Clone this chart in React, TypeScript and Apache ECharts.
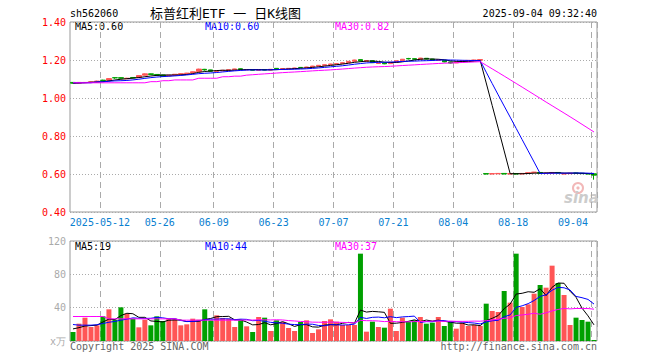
import React, { useEffect, useRef } from 'react';
import * as echarts from 'echarts';

const dates = [
  '2025-04-30',
  '2025-05-06', '2025-05-07', '2025-05-08', '2025-05-09',
  '2025-05-12', '2025-05-13', '2025-05-14', '2025-05-15', '2025-05-16',
  '2025-05-19', '2025-05-20', '2025-05-21', '2025-05-22', '2025-05-23',
  '2025-05-26', '2025-05-27', '2025-05-28', '2025-05-29', '2025-05-30',
  '2025-06-03', '2025-06-04', '2025-06-05', '2025-06-06',
  '2025-06-09', '2025-06-10', '2025-06-11', '2025-06-12', '2025-06-13',
  '2025-06-16', '2025-06-17', '2025-06-18', '2025-06-19', '2025-06-20',
  '2025-06-23', '2025-06-24', '2025-06-25', '2025-06-26', '2025-06-27',
  '2025-06-30', '2025-07-01', '2025-07-02', '2025-07-03', '2025-07-04',
  '2025-07-07', '2025-07-08', '2025-07-09', '2025-07-10', '2025-07-11',
  '2025-07-14', '2025-07-15', '2025-07-16', '2025-07-17', '2025-07-18',
  '2025-07-21', '2025-07-22', '2025-07-23', '2025-07-24', '2025-07-25',
  '2025-07-28', '2025-07-29', '2025-07-30', '2025-07-31', '2025-08-01',
  '2025-08-04', '2025-08-05', '2025-08-06', '2025-08-07', '2025-08-08',
  '2025-08-11', '2025-08-12', '2025-08-13', '2025-08-14', '2025-08-15',
  '2025-08-18', '2025-08-19', '2025-08-20', '2025-08-21', '2025-08-22',
  '2025-08-25', '2025-08-26', '2025-08-27', '2025-08-28', '2025-08-29',
  '2025-09-01', '2025-09-02', '2025-09-03', '2025-09-04',
];

const opens = [
  1.082, 1.078, 1.080, 1.082, 1.085, 1.094, 1.093, 1.107, 1.107, 1.101,
  1.108, 1.108, 1.120, 1.127, 1.124, 1.121, 1.116, 1.120, 1.125, 1.128,
  1.132, 1.139, 1.151, 1.148, 1.140, 1.143, 1.146, 1.149, 1.154, 1.148,
  1.150, 1.146, 1.150, 1.147, 1.156, 1.152, 1.154, 1.155, 1.161, 1.160,
  1.163, 1.168, 1.172, 1.175, 1.178, 1.181, 1.186, 1.193, 1.202, 1.193,
  1.196, 1.182, 1.184, 1.181, 1.189, 1.197, 1.208, 1.207, 1.204, 1.209,
  1.205, 1.198, 1.199, 1.190, 1.185, 1.190, 1.196, 1.198, 1.199,
  0.602, 0.600, 0.601, 0.603, 0.600, 0.602, 0.600, 0.603, 0.607, 0.608,
  0.603, 0.604, 0.608, 0.600, 0.602, 0.605, 0.604, 0.602, 0.601,
];
const closes = [
  1.078, 1.082, 1.082, 1.085, 1.089, 1.092, 1.102, 1.106, 1.104, 1.104,
  1.106, 1.118, 1.127, 1.124, 1.120, 1.115, 1.120, 1.125, 1.128, 1.131,
  1.138, 1.152, 1.148, 1.141, 1.143, 1.146, 1.149, 1.153, 1.150, 1.150,
  1.146, 1.149, 1.147, 1.151, 1.153, 1.155, 1.156, 1.158, 1.160, 1.163,
  1.168, 1.172, 1.175, 1.179, 1.181, 1.186, 1.193, 1.200, 1.195, 1.197,
  1.186, 1.184, 1.180, 1.188, 1.196, 1.204, 1.206, 1.204, 1.210, 1.205,
  1.199, 1.201, 1.190, 1.184, 1.190, 1.196, 1.198, 1.200, 1.202,
  0.600, 0.602, 0.603, 0.600, 0.602, 0.600, 0.603, 0.607, 0.610, 0.604,
  0.605, 0.608, 0.605, 0.602, 0.604, 0.604, 0.602, 0.600, 0.594,
];
const lows = [
  1.076, 1.077, 1.079, 1.081, 1.083, 1.090, 1.092, 1.101, 1.102, 1.100,
  1.104, 1.107, 1.118, 1.122, 1.116, 1.114, 1.115, 1.119, 1.124, 1.127,
  1.131, 1.138, 1.144, 1.139, 1.139, 1.142, 1.145, 1.148, 1.148, 1.147,
  1.145, 1.145, 1.146, 1.146, 1.151, 1.151, 1.153, 1.154, 1.157, 1.159,
  1.162, 1.167, 1.171, 1.174, 1.177, 1.180, 1.185, 1.192, 1.192, 1.191,
  1.184, 1.181, 1.178, 1.180, 1.188, 1.196, 1.203, 1.202, 1.203, 1.203,
  1.197, 1.197, 1.188, 1.182, 1.184, 1.189, 1.195, 1.197, 1.198,
  0.598, 0.599, 0.600, 0.599, 0.599, 0.598, 0.599, 0.602, 0.606, 0.603,
  0.602, 0.603, 0.604, 0.599, 0.601, 0.602, 0.600, 0.599, 0.570,
];
const highs = [
  1.083, 1.083, 1.084, 1.086, 1.091, 1.096, 1.103, 1.108, 1.108, 1.106,
  1.109, 1.119, 1.129, 1.128, 1.126, 1.122, 1.121, 1.126, 1.129, 1.132,
  1.139, 1.154, 1.153, 1.149, 1.144, 1.147, 1.150, 1.154, 1.155, 1.151,
  1.151, 1.150, 1.151, 1.152, 1.157, 1.156, 1.157, 1.159, 1.163, 1.164,
  1.169, 1.173, 1.176, 1.180, 1.182, 1.187, 1.194, 1.201, 1.203, 1.198,
  1.198, 1.186, 1.185, 1.189, 1.197, 1.205, 1.211, 1.208, 1.211, 1.210,
  1.206, 1.202, 1.200, 1.191, 1.191, 1.197, 1.199, 1.201, 1.203,
  0.603, 0.603, 0.604, 0.604, 0.603, 0.603, 0.604, 0.608, 0.611, 0.609,
  0.606, 0.609, 0.609, 0.603, 0.605, 0.606, 0.605, 0.603, 0.602,
];

// volume, in 万 (10k shares)
const volumes = [
  10.8, 20.8, 28.0, 16.8, 18.8, 29.6, 38.0, 25.6, 40.4, 32.8,
  26.8, 16.4, 25.6, 18.8, 29.6, 24.0, 26.8, 26.8, 18.8, 20.0,
  26.8, 25.6, 38.0, 24.8, 30.8, 27.6, 26.8, 16.8, 24.8, 17.6,
  10.8, 28.8, 28.0, 12.0, 24.8, 22.8, 15.6, 12.0, 22.8, 24.8,
  9.6, 14.0, 24.0, 26.0, 23.2, 19.2, 19.2, 19.2, 104.8, 11.2,
  23.2, 16.8, 16.0, 38.8, 12.0, 28.0, 23.2, 24.8, 28.8, 20.8,
  22.0, 28.8, 18.0, 23.2, 14.8, 22.0, 18.0, 19.2, 18.0, 44.8,
  36.0, 34.8, 60.0, 46.0, 104.8, 40.8, 44.0, 56.8, 67.2, 64.0,
  90.4, 69.6, 55.2, 19.2, 28.0, 25.2, 23.2, 1.2,
];

// moving-average values before a full window is available
const ma5Head = [1.077, 1.079, 1.081, 1.083];
const ma10Head = [1.080, 1.080, 1.080, 1.080, 1.085, 1.085, 1.088, 1.090, 1.091];
const ma30Head = [
  1.080, 1.080, 1.080, 1.080, 1.080, 1.080, 1.080, 1.080, 1.080, 1.080,
  1.080, 1.080, 1.080, 1.086, 1.086, 1.091, 1.091, 1.095, 1.095, 1.095,
  1.095, 1.104, 1.104, 1.104, 1.104, 1.112, 1.112, 1.115, 1.115,
];
const vma5Head = [14.5, 16.0, 18.0, 18.5];
const vma10Head = [19.8, 19.0, 19.0, 19.0, 19.5, 21.0, 22.5, 23.5, 25.0];
const vma30Head = [
  29.4, 29.4, 29.4, 29.4, 29.4, 29.4, 26.6, 26.6, 26.6, 26.6,
  26.6, 26.6, 26.6, 26.6, 26.6, 26.6, 26.6, 26.6, 25.0, 25.0,
  25.0, 25.0, 25.0, 25.0, 25.0, 25.0, 25.0, 25.0, 25.0,
];

const labelDates = [
  '2025-05-12', '2025-05-26', '2025-06-09', '2025-06-23', '2025-07-07',
  '2025-07-21', '2025-08-04', '2025-08-18', '2025-09-04',
];
const priceLegend = ['MA5:0.60', 'MA10:0.60', 'MA30:0.82'];
const volLegend = ['MA5:19', 'MA10:44', 'MA30:37'];
const stockCode = 'sh562060';
const chartTitle = '标普红利ETF 一 日K线图';
const timeStamp = '2025-09-04 09:32:40';
const copyright = 'Copyright 2025 SINA.COM';
const siteUrl = 'http://finance.sina.com.cn';

function movingAverage(values: number[], n: number, head: number[]) {
  return values.map((_, i) => {
    if (i < n - 1) return head[i];
    let s = 0;
    for (let k = i - n + 1; k <= i; k++) s += values[k];
    return +(s / n).toFixed(4);
  });
}

const UP = '#ff5555';
const DOWN = '#00a000';
const MONO = '"DejaVu Sans Mono", "Liberation Mono", monospace';
const LEFT = 70;
const WIDTH = 527;

export default function App() {
  const ref = useRef<HTMLDivElement>(null);
  useEffect(() => {
    if (!ref.current) return;
    const chart = echarts.init(ref.current, undefined, { renderer: 'svg' });
    const labelSet = new Set(labelDates);
    const isLabel = (i: number) => labelSet.has(dates[i]);
    const candle = dates.map((_, i) => [opens[i], closes[i], lows[i], highs[i]]);
    const volData = volumes.map((v, i) => ({
      value: v,
      itemStyle: { color: closes[i] >= opens[i] ? UP : DOWN },
    }));
    const maColors = ['#000000', '#0000ff', '#ff00ff'];
    const priceMA = [
      movingAverage(closes, 5, ma5Head),
      movingAverage(closes, 10, ma10Head),
      movingAverage(closes, 30, ma30Head),
    ];
    const volMA = [
      movingAverage(volumes, 5, vma5Head),
      movingAverage(volumes, 10, vma10Head),
      movingAverage(volumes, 30, vma30Head),
    ];
    const splitX = {
      show: true,
      interval: (i: number) => isLabel(i),
      lineStyle: { color: '#aaaaaa', type: [6, 4] as any, width: 1 },
    };
    const txt = (text: string, x: number, y: number, fill: string, align = 'left', font = `10px ${MONO}`) => ({
      type: 'text',
      x,
      y,
      silent: true,
      style: {
        text,
        fill,
        font,
        align,
        verticalAlign: 'middle',
        textAlign: align,
        textVerticalAlign: 'middle',
      },
    });
    const legendX = [75, 205, 335];
    const option: any = {
      animation: false,
      backgroundColor: '#ffffff',
      grid: [
        { left: LEFT, top: 22, width: WIDTH, height: 190, show: true, borderColor: '#999999', borderWidth: 1, backgroundColor: 'transparent' },
        { left: LEFT, top: 241, width: WIDTH, height: 100, show: true, borderColor: '#999999', borderWidth: 1, backgroundColor: 'transparent' },
      ],
      xAxis: [
        {
          type: 'category',
          gridIndex: 0,
          data: dates,
          boundaryGap: true,
          axisLine: { show: false },
          axisTick: { show: false },
          splitLine: splitX,
          axisLabel: {
            show: true,
            interval: (i: number) => isLabel(i),
            formatter: (v: string) => (v === labelDates[0] ? v : v.slice(5)),
            color: '#0a80d0',
            fontFamily: MONO,
            fontSize: 10,
            margin: 5,
            padding: [0, 6, 0, 0],
            alignMaxLabel: 'right',
          },
        },
        {
          type: 'category',
          gridIndex: 1,
          data: dates,
          boundaryGap: true,
          axisLine: { show: false },
          axisTick: { show: false },
          axisLabel: { show: false },
          splitLine: splitX,
        },
      ],
      yAxis: [
        {
          type: 'value',
          gridIndex: 0,
          min: 0.4,
          max: 1.4,
          interval: 0.2,
          axisLine: { show: false },
          axisTick: { show: false },
          axisLabel: {
            color: '#ff0000',
            fontFamily: MONO,
            fontSize: 10,
            margin: 4,
            formatter: (v: number) => v.toFixed(2),
          },
          splitLine: { show: true, lineStyle: { color: '#aaaaaa', type: [1, 2] as any, width: 1 } },
        },
        {
          type: 'value',
          gridIndex: 1,
          min: 0,
          max: 120,
          interval: 40,
          axisLine: { show: false },
          axisTick: { show: false },
          axisLabel: {
            color: '#aaaaaa',
            fontFamily: MONO,
            fontSize: 10,
            margin: 4,
            formatter: (v: number) => (v === 0 ? 'x万' : String(v)),
          },
          splitLine: { show: true, lineStyle: { color: '#aaaaaa', type: [1, 2] as any, width: 1 } },
        },
      ],
      series: [
        {
          type: 'candlestick',
          xAxisIndex: 0,
          yAxisIndex: 0,
          data: candle,
          barWidth: 5,
          itemStyle: { color: UP, color0: DOWN, borderColor: UP, borderColor0: DOWN, borderWidth: 1 },
        },
        ...priceMA.map((d, k) => ({
          type: 'line',
          xAxisIndex: 0,
          yAxisIndex: 0,
          data: d,
          showSymbol: false,
          symbol: 'none',
          silent: true,
          lineStyle: { color: maColors[k], width: 1 },
          z: 3 + k,
        })),
        {
          type: 'bar',
          xAxisIndex: 1,
          yAxisIndex: 1,
          data: volData,
          barWidth: 5,
        },
        ...volMA.map((d, k) => ({
          type: 'line',
          xAxisIndex: 1,
          yAxisIndex: 1,
          data: d,
          showSymbol: false,
          symbol: 'none',
          silent: true,
          lineStyle: { color: maColors[k], width: 1 },
          z: 3 + k,
        })),
      ],
      graphic: [
        txt(stockCode, 70, 13.5, '#000000'),
        txt(chartTitle, 150, 13, '#000000', 'left', `13px ${'"DejaVu Sans Mono", "Noto Sans CJK SC", sans-serif'}`),
        txt(timeStamp, 597, 13.5, '#000000', 'right'),
        ...priceLegend.map((t, k) => txt(t, legendX[k], 26.5, maColors[k])),
        ...volLegend.map((t, k) => txt(t, legendX[k], 246.5, maColors[k])),
        txt(copyright, 70, 346.5, '#666666'),
        txt(siteUrl, 597, 346.5, '#666666', 'right'),
        { type: 'circle', silent: true, shape: { cx: 578, cy: 188, r: 5 }, style: { fill: 'none', stroke: '#f2b8b8', lineWidth: 2 } },
        { type: 'circle', silent: true, shape: { cx: 578, cy: 188, r: 1.6 }, style: { fill: '#f2b8b8' } },
        txt('sina', 564, 198, '#cccccc', 'left', 'italic bold 15px "DejaVu Sans", sans-serif'),
      ],
    };
    chart.setOption(option);
    return () => chart.dispose();
  }, []);
  return (
    <div
      ref={ref}
      style={{ position: 'fixed', left: 0, top: 0, width: 660, height: 360, background: '#fff' }}
    />
  );
}
